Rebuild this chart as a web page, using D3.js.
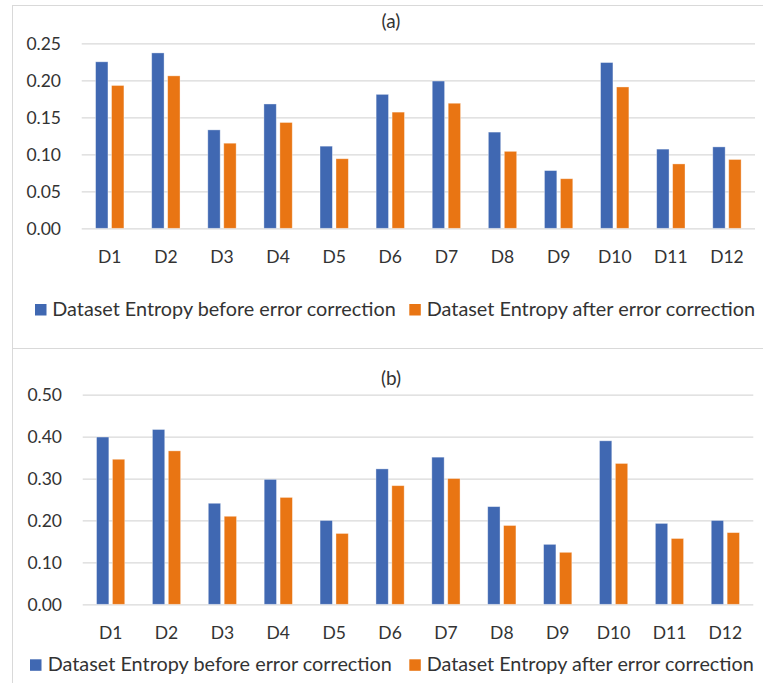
<!DOCTYPE html>
<html>
<head>
<meta charset="utf-8">
<script src="https://cdn.jsdelivr.net/npm/d3@7"></script>
<style>
  html, body { margin: 0; padding: 0; background: #fff; }
  svg { display: block; }
  text { font-family: Lato, "Open Sans", sans-serif; fill: #333; }
</style>
</head>
<body>
<svg id="chart" width="763" height="683"></svg>
<script>
// ---- Data ----
const categories = ["D1","D2","D3","D4","D5","D6","D7","D8","D9","D10","D11","D12"];
const seriesNames = ["Dataset Entropy before error correction", "Dataset Entropy after error correction"];
const beforeA = [0.225, 0.237, 0.133, 0.168, 0.111, 0.181, 0.199, 0.130, 0.078, 0.224, 0.107, 0.110];
const afterA  = [0.193, 0.206, 0.115, 0.143, 0.094, 0.157, 0.169, 0.104, 0.067, 0.191, 0.087, 0.093];
const beforeB = [0.399, 0.417, 0.241, 0.298, 0.200, 0.323, 0.351, 0.233, 0.143, 0.390, 0.193, 0.200];
const afterB  = [0.346, 0.366, 0.210, 0.255, 0.169, 0.283, 0.300, 0.188, 0.124, 0.336, 0.157, 0.171];
const ticksA = [0, 0.05, 0.10, 0.15, 0.20, 0.25];
const ticksB = [0, 0.10, 0.20, 0.30, 0.40, 0.50];
const titles = ["(a)", "(b)"];

const colors = ["#4068B2", "#E97513"];
const gridColor = "#d9d9d9";

const svg = d3.select("#chart");

// panel borders
svg.append("line").attr("x1", 12.5).attr("x2", 12.5).attr("y1", 5).attr("y2", 683)
  .attr("stroke", gridColor).attr("stroke-width", 1);
svg.append("line").attr("x1", 12).attr("x2", 763).attr("y1", 5.5).attr("y2", 5.5)
  .attr("stroke", gridColor).attr("stroke-width", 1);
svg.append("line").attr("x1", 12).attr("x2", 763).attr("y1", 348.5).attr("y2", 348.5)
  .attr("stroke", gridColor).attr("stroke-width", 1);

const panels = [
  { title: titles[0], before: beforeA, after: afterA, ticks: ticksA, fmt: d3.format(".2f"),
    x0: 81.7, x1: 755, yTop: 43.3, yBot: 228.3, labelRight: 61, titleY: 28,
    xLabelY: 263, legY: 304, legSq1: 35, legSq2: 409.3, legT1: 52.3, legT2: 426.7, legEnd1: 396, legEnd2: 755 },
  { title: titles[1], before: beforeB, after: afterB, ticks: ticksB, fmt: d3.format(".2f"),
    x0: 82.7, x1: 753.3, yTop: 394.7, yBot: 604.3, labelRight: 62, titleY: 385,
    xLabelY: 639, legY: 659.3, legSq1: 30, legSq2: 409.3, legT1: 47.7, legT2: 426.7, legEnd1: 392, legEnd2: 754 }
];

panels.forEach(p => {
  const g = svg.append("g");
  const yMax = p.ticks[p.ticks.length - 1];
  const y = d3.scaleLinear().domain([0, yMax]).range([p.yBot, p.yTop]);
  const x = d3.scaleBand().domain(categories).range([p.x0, p.x1]).padding(0);
  const xs = d3.scaleBand().domain([0, 1]).range([0, x.bandwidth()]).paddingInner(0.225).paddingOuter(0.87);

  // gridlines
  const yAxis = d3.axisLeft(y).tickValues(p.ticks).tickFormat(p.fmt).tickSize(-(p.x1 - p.x0)).tickPadding(p.x0 - p.labelRight);
  const ya = g.append("g").attr("transform", `translate(${p.x0},0)`).call(yAxis);
  ya.select(".domain").remove();
  ya.selectAll(".tick line").attr("stroke", gridColor).attr("stroke-width", 1.3);
  ya.selectAll(".tick text").style("font-size", "17.5px").attr("fill", "#333").attr("dy", "0.34em");

  // bars
  const data = categories.map((c, i) => ({ c, vals: [p.before[i], p.after[i]] }));
  const grp = g.selectAll(".grp").data(data).join("g").attr("transform", d => `translate(${x(d.c)},0)`);
  grp.selectAll("rect").data(d => d.vals.map((v, k) => ({ v, k }))).join("rect")
    .attr("x", d => xs(d.k))
    .attr("width", xs.bandwidth())
    .attr("y", d => y(d.v))
    .attr("height", d => y(0) - y(d.v))
    .attr("fill", d => colors[d.k])
    .attr("stroke", "#ffffff").attr("stroke-opacity", 0.45).attr("stroke-width", 0.8);

  // x axis labels
  const xAxis = d3.axisBottom(x).tickSize(0).tickPadding(0);
  const xa = g.append("g").attr("transform", `translate(0,${p.yBot})`).call(xAxis);
  xa.select(".domain").remove();
  xa.selectAll(".tick text").style("font-size", "17.5px").attr("fill", "#333")
    .attr("dy", 0).attr("y", p.xLabelY - p.yBot);

  // title
  g.append("text").attr("x", 391).attr("y", p.titleY).attr("text-anchor", "middle")
    .style("font-size", "19px").text(p.title);

  // legend
  const sq = 11.5;
  [[p.legSq1, p.legT1, p.legEnd1], [p.legSq2, p.legT2, p.legEnd2]].forEach((L, k) => {
    g.append("rect").attr("x", L[0]).attr("y", p.legY).attr("width", sq).attr("height", sq).attr("fill", colors[k]);
    const t = g.append("text").attr("x", L[1]).attr("y", p.legY + sq).style("font-size", "18px").text(seriesNames[k]);
    const w = t.node().getComputedTextLength();
    const target = L[2] - L[1];
    t.style("font-size", (18 * target / w).toFixed(2) + "px");
  });
});
</script>
</body>
</html>
